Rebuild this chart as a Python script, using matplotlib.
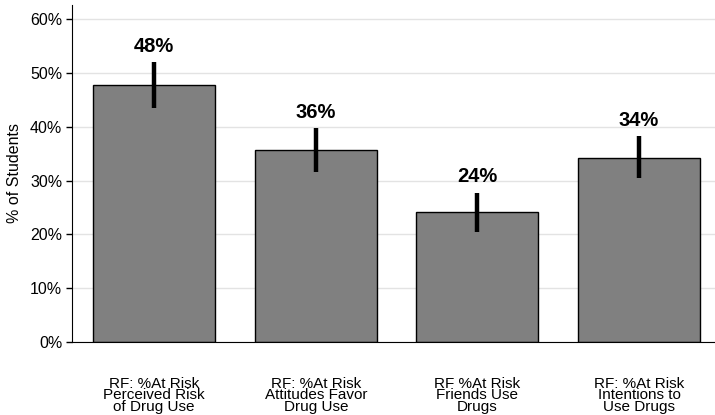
import numpy as np
import matplotlib
matplotlib.use('Agg')
import matplotlib.pyplot as plt
from matplotlib.ticker import FuncFormatter

plt.rcParams['font.family'] = ['Liberation Sans', 'DejaVu Sans']

categories = ['RF: %At Risk\nPerceived Risk\nof Drug Use',
              'RF: %At Risk\nAttitudes Favor\nDrug Use',
              'RF %At Risk\nFriends Use\nDrugs',
              'RF: %At Risk\nIntentions to\nUse Drugs']
values = [47.8, 35.7, 24.2, 34.3]
err_low = [43.5, 31.6, 20.5, 30.5]
err_high = [52.1, 39.8, 27.8, 38.3]
labels = ['48%', '36%', '24%', '34%']

fig = plt.figure(figsize=(7.15, 4.15), dpi=100)
ax = fig.add_axes([0.1007, 0.176, 0.8993, 0.812])

x = np.arange(len(categories))
vals = np.array(values)
yerr = [vals - np.array(err_low), np.array(err_high) - vals]

ax.bar(x, vals, width=0.755, color='#808080', edgecolor='black', linewidth=1.0, zorder=2)
ax.errorbar(x, vals, yerr=yerr, fmt='none', ecolor='black', elinewidth=3.2, capsize=0, zorder=3)

for xi, hi, lab in zip(x, err_high, labels):
    ax.text(xi, hi + 2.9, lab, ha='center', va='center', fontsize=14.5, fontweight='bold', color='black')

ax.set_xlim(-0.508, 3.47)
ax.set_ylim(0, 62.7)
ax.set_yticks(np.arange(0, 61, 10))
ax.yaxis.set_major_formatter(FuncFormatter(lambda v, p: f'{int(v)}%'))
ax.yaxis.grid(True, color='#e3e3e3', linewidth=1.0, zorder=0)
ax.set_axisbelow(True)

ax.set_xticks(x)
ax.set_xticklabels(categories, fontsize=11, linespacing=0.78)
ax.tick_params(axis='x', length=0, pad=25)
ax.tick_params(axis='y', length=4, width=1, labelsize=11.5, colors='black', pad=3)

for s in ['top', 'right']:
    ax.spines[s].set_visible(False)
ax.spines['left'].set_color('black')
ax.spines['bottom'].set_color('black')

ax.set_ylabel('% of Students', fontsize=11.5, labelpad=6)

fig.savefig('out.png', dpi=100)
